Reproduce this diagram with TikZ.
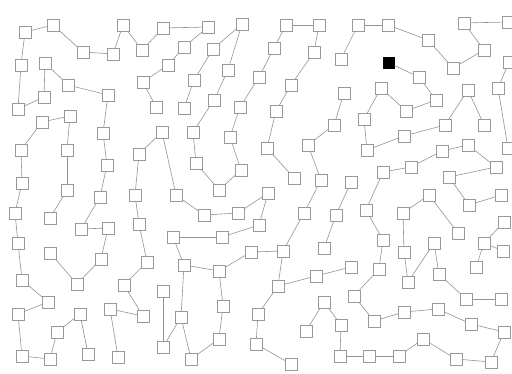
\documentclass[tikz,border=0pt]{standalone}
\usepackage{tikz}
\begin{document}
\begin{tikzpicture}[x=1pt,y=-1pt,
  bx/.style={draw=black!40,fill=white,line width=0.6pt,minimum size=12pt,inner sep=0pt,outer sep=0pt},
  bk/.style={draw=black,fill=black,minimum size=11pt,inner sep=0pt,outer sep=0pt},
  ln/.style={draw=black!42,line width=0.6pt}]
\useasboundingbox[fill=white] (0,0) rectangle (512,374);
\foreach \n/\x/\y in {
a1/25/32,a2/53/25,a3/83/52,a4/113/54,a5/123/25,a6/142/50,a7/163/28,a8/21/65,a9/45/63,a10/68/85,
a11/108/95,a12/44/97,a13/18/109,a14/70/116,a15/143/82,a16/156/107,a17/168/65,a18/42/122,
b1/208/27,b2/242/24,b3/184/47,b4/213/49,b5/228/70,b6/194/80,b7/214/100,b8/184/108,b9/240/107,
b10/259/77,b11/286/25,b12/319/25,b13/274/48,b14/314/52,b15/291/85,b16/276/111,b17/341/59,b18/334/125,
c1/358/25,c2/388/25,c3/428/40,c4/453/68,c5/484/50,c6/464/23,c7/508/22,c10/419/77,c11/344/93,
c12/381/88,c13/436/100,c14/406/111,c15/364/119,c16/468/90,c17/498/88,c18/509/62,j1/508/148,
d2/21/150,d3/67/150,d4/103/133,d5/107/165,d6/162/132,d7/139/154,d8/22/183,d9/67/190,d10/100/197,
d11/135/195,d12/15/213,d13/50/218,d14/81/229,d15/108/228,d16/139/224,d17/18/243,
e1/193/132,e2/230/137,e3/267/148,e4/308/145,e6/196/163,e7/241/170,e8/219/190,e9/294/178,e10/321/180,
e11/176/195,e12/268/193,e13/204/215,e14/238/213,e15/259/225,e16/304/213,e17/336/215,e18/222/237,e19/173/237,
f2/404/136,f3/445/125,f4/484/125,f5/367/150,f6/442/151,f7/468/145,f8/383/172,f9/411/167,f10/449/177,
f11/496/167,f12/351/182,f13/429/195,f14/469/205,f15/501/195,f16/366/210,f17/403/213,f18/458/233,
f19/504/222,f20/383/240,f21/434/243,f22/484/243,
g1/50/253,g2/101/259,g3/147/262,g4/22/280,g5/77/284,g6/124/285,g7/163/291,g8/48/302,g9/18/314,
g10/80/314,g11/110/309,g12/143/316,g13/57/332,g14/163/347,g15/22/356,g16/50/359,g17/88/354,g18/118/357,
h1/251/252,h2/283/251,h3/324/248,h4/184/265,h5/219/271,h6/278/286,h7/316/276,h8/324/302,h9/223/306,
h10/181/317,h11/258/314,h12/306/331,h13/219/339,h14/256/344,h15/341/325,h16/191/359,h17/291/364,h18/340/356,
i1/351/267,i2/379/269,i3/404/252,i4/439/274,i5/408/282,i6/476/267,i7/503/251,i8/354/296,i9/466/299,
i10/501/299,i11/374/321,i12/404/312,i13/438/309,i14/471/324,i16/504/332,i17/423/339,i18/369/356,
i19/399/356,i20/456/359,i21/491/362}
  \node[bx] (\n) at (\x,\y) {};
\node[bk] (c9) at (389,63) {};
\foreach \p/\q in {
a1/a2,a2/a3,a3/a4,a4/a5,a5/a6,a6/a7,a7/b1,a1/a8,a8/a13,a13/a12,a12/a9,a9/a10,a10/a11,a11/d4,d4/d5,
d5/d10,d10/d14,d14/d15,d15/g2,g2/g5,g5/g1,a18/a14,a14/d3,d3/d9,d9/d13,a18/d2,d2/d8,d8/d12,d12/d17,
d17/g4,g4/g8,g8/g9,g9/g15,g15/g16,g16/g13,g13/g10,g10/g17,
b1/b3,b3/a17,a17/a15,a15/a16,d6/d7,d7/d11,d11/d16,d16/g3,g3/g6,g6/g12,g12/g11,g11/g18,
b4/b2,b2/b5,b5/b7,b7/e1,e1/e6,e6/e8,e8/e7,e7/e2,e2/b9,b9/b10,b10/b13,b13/b11,b11/b12,b12/b14,
b14/b15,b15/b16,b16/e3,e3/e9,b4/b6,b6/b8,
c1/b17,c1/c2,c2/c3,c3/c4,c4/c5,c5/c6,c6/c7,
c11/b18,b18/e4,e4/e10,e10/e16,e16/h2,h2/h1,h1/h5,h5/h4,h4/e19,e19/e18,e18/e15,e15/e12,e12/e14,
e14/e13,e13/e11,e11/d6,
h4/h10,h10/h16,h16/h13,h13/h9,h9/h5,h10/g14,g7/g14,
h2/h6,h6/h11,h6/h7,h7/i1,h11/h14,h14/h17,h8/h12,h8/h15,h15/h18,h3/e17,e17/f12,
c9/c10,c10/c13,c13/c14,c14/c12,c12/c15,c15/f5,f5/f2,f2/f3,f3/c16,c16/f4,c17/j1,c17/c18,
f6/f9,f9/f8,f8/f16,f16/f20,f20/i2,i2/i8,i8/i11,i11/i12,i12/i13,i13/i14,i14/i16,i16/i21,i21/i20,
i20/i17,i17/i19,i19/i18,i18/h18,
f6/f7,f7/f11,f11/f10,f10/f14,f14/f15,f13/f17,f13/f18,f19/f22,f17/i3,i3/i5,i5/f21,f21/i4,i4/i9,
i9/i10,f22/i6,i7/f22}
  \draw[ln] (\p) -- (\q);
\end{tikzpicture}
\end{document}
